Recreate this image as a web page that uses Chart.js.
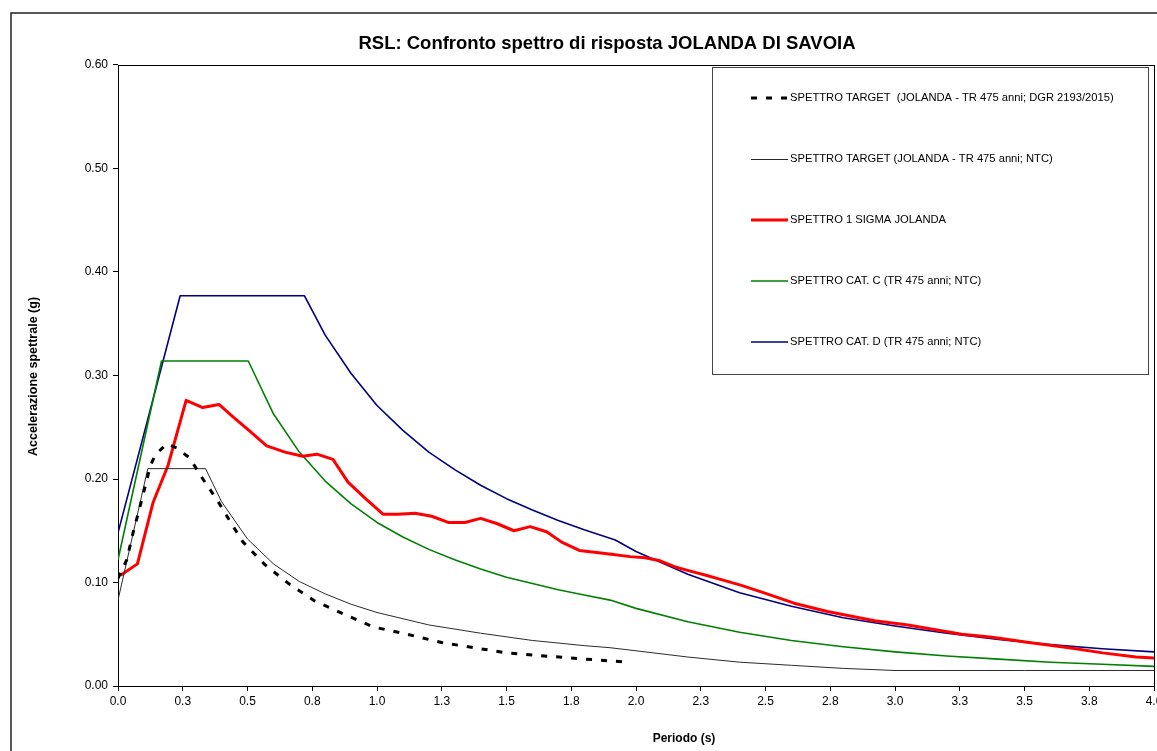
<!DOCTYPE html>
<html lang="it">
<head>
<meta charset="utf-8">
<title>RSL: Confronto spettro di risposta JOLANDA DI SAVOIA</title>
<script src="https://cdn.jsdelivr.net/npm/chart.js@4.4.1/dist/chart.umd.min.js"></script>
<style>
    html, body { margin: 0; padding: 0; background: #ffffff; overflow: hidden; }
    #spettri { display: block; }
</style>
</head>
<body>
<canvas id="spettri" width="1157" height="751"></canvas>
<script>
// Spettri di risposta - periodo (s) / accelerazione spettrale (g)

const periodiDGR = [0, 0.034, 0.058, 0.092, 0.124, 0.143, 0.188, 0.227, 0.278, 0.317, 0.387, 0.445, 0.483, 0.568, 0.664, 0.761, 0.876, 0.986, 1.10, 1.25, 1.50, 1.75, 1.97];
const targetDGR = [0.104, 0.122, 0.148, 0.180, 0.212, 0.223, 0.234, 0.230, 0.220, 0.204, 0.178, 0.154, 0.139, 0.117, 0.098, 0.082, 0.069, 0.057, 0.051, 0.042, 0.032, 0.027, 0.023];

const periodiNTC = [0, 0.115, 0.338, 0.4, 0.5, 0.6, 0.7, 0.8, 0.9, 1.0, 1.2, 1.4, 1.6, 1.8, 1.9, 2.0, 2.2, 2.4, 2.6, 2.8, 3.0, 3.5, 4.0];
const targetNTC = [0.083, 0.210, 0.210, 0.178, 0.142, 0.118, 0.101, 0.089, 0.079, 0.071, 0.059, 0.051, 0.044, 0.039, 0.037, 0.034, 0.028, 0.023, 0.020, 0.017, 0.015, 0.015, 0.015];

const periodiSigma = [0.01, 0.075, 0.135, 0.193, 0.263, 0.327, 0.39, 0.444, 0.51, 0.574, 0.645, 0.713, 0.768, 0.83, 0.888, 0.96, 1.023, 1.081, 1.147, 1.211, 1.275, 1.34, 1.40, 1.462, 1.529, 1.591, 1.655, 1.713, 1.781, 1.848, 1.912, 1.977, 2.035, 2.093, 2.151, 2.21, 2.27, 2.34, 2.41, 2.506, 2.61, 2.739, 2.921, 3.05, 3.258, 3.375, 3.517, 3.672, 3.802, 3.93, 4.0];
const sigma1 = [0.107, 0.118, 0.177, 0.213, 0.276, 0.269, 0.272, 0.260, 0.246, 0.232, 0.226, 0.222, 0.224, 0.219, 0.197, 0.180, 0.166, 0.166, 0.167, 0.164, 0.158, 0.158, 0.162, 0.157, 0.150, 0.154, 0.149, 0.139, 0.131, 0.129, 0.127, 0.125, 0.124, 0.121, 0.115, 0.111, 0.107, 0.102, 0.097, 0.089, 0.080, 0.072, 0.063, 0.059, 0.050, 0.047, 0.042, 0.037, 0.032, 0.028, 0.027];

const periodiCatC = [0, 0.168, 0.503, 0.6, 0.7, 0.8, 0.9, 1.0, 1.1, 1.2, 1.3, 1.4, 1.5, 1.6, 1.7, 1.8, 1.9, 2.0, 2.2, 2.4, 2.6, 2.8, 3.0, 3.2, 3.4, 3.6, 3.8, 4.0];
const catC = [0.122, 0.314, 0.314, 0.263, 0.226, 0.198, 0.176, 0.158, 0.144, 0.132, 0.122, 0.113, 0.105, 0.099, 0.093, 0.088, 0.083, 0.075, 0.062, 0.052, 0.044, 0.038, 0.033, 0.029, 0.026, 0.023, 0.021, 0.019];

const periodiCatD = [0, 0.24, 0.72, 0.8, 0.9, 1.0, 1.1, 1.2, 1.3, 1.4, 1.5, 1.6, 1.7, 1.8, 1.92, 2.0, 2.2, 2.4, 2.6, 2.8, 3.0, 3.2, 3.4, 3.6, 3.8, 4.0];
const catD = [0.148, 0.377, 0.377, 0.339, 0.302, 0.271, 0.247, 0.226, 0.209, 0.194, 0.181, 0.170, 0.160, 0.151, 0.141, 0.130, 0.108, 0.090, 0.077, 0.066, 0.058, 0.051, 0.045, 0.040, 0.036, 0.033];

const xTickLabels = ['0.0', '0.3', '0.5', '0.8', '1.0', '1.3', '1.5', '1.8', '2.0', '2.3', '2.5', '2.8', '3.0', '3.3', '3.5', '3.8', '4.0'];
const yTickLabels = ['0.00', '0.10', '0.20', '0.30', '0.40', '0.50', '0.60'];

const FONT = '"Liberation Sans", Arial, Helvetica, sans-serif';

function toPoints(periods, values) {
    return periods.map((t, i) => ({ x: t, y: values[i] }));
}

// Frame, title, axis titles and the boxed legend inside the plot
const decorations = {
    id: 'decorations',
    beforeDatasetsDraw(chart) {
        const a = chart.chartArea;
        const ctx = chart.ctx;
        ctx.save();
        ctx.strokeStyle = '#000000';
        ctx.lineWidth = 1;
        ctx.strokeRect(a.left + 0.5, a.top + 0.5, a.right - a.left, a.bottom - a.top);
        ctx.restore();
    },
    afterDraw(chart) {
        const ctx = chart.ctx;
        const a = chart.chartArea;
        ctx.save();

        // outer chart frame
        ctx.strokeStyle = '#222222';
        ctx.lineWidth = 1.5;
        ctx.beginPath();
        ctx.moveTo(11, 760);
        ctx.lineTo(11, 13);
        ctx.lineTo(1170, 13);
        ctx.stroke();

        // title
        ctx.fillStyle = '#000000';
        ctx.textAlign = 'center';
        ctx.textBaseline = 'middle';
        ctx.font = 'bold 18.5px ' + FONT;
        ctx.fillText('RSL: Confronto spettro di risposta JOLANDA DI SAVOIA', 607, 44);

        // axis titles
        ctx.font = 'bold 12px ' + FONT;
        ctx.fillText('Periodo (s)', 684, 739);
        ctx.save();
        ctx.translate(34, (a.top + a.bottom) / 2 + 1);
        ctx.rotate(-Math.PI / 2);
        ctx.font = 'bold 12.5px ' + FONT;
        ctx.fillText('Accelerazione spettrale (g)', 0, 0);
        ctx.restore();

        // legend box
        ctx.fillStyle = '#ffffff';
        ctx.fillRect(712, 67, 436, 307);
        ctx.strokeStyle = '#444444';
        ctx.lineWidth = 1;
        ctx.strokeRect(712.5, 67.5, 436, 307);

        ctx.textAlign = 'left';
        ctx.textBaseline = 'middle';
        ctx.font = '11.2px ' + FONT;
        chart.data.datasets.forEach((ds, i) => {
            const y = 98 + i * 61;
            const ly = ds.borderWidth < 1.5 ? y + 0.5 : y;
            ctx.strokeStyle = ds.borderColor;
            ctx.lineWidth = ds.borderWidth;
            ctx.setLineDash(ds.borderDash || []);
            ctx.beginPath();
            ctx.moveTo(751, ly);
            ctx.lineTo(788, ly);
            ctx.stroke();
            ctx.setLineDash([]);
            ctx.fillStyle = '#000000';
            ctx.fillText(ds.label, 790, y);
        });

        ctx.restore();
    }
};

const ctx = document.getElementById('spettri');

new Chart(ctx, {
    type: 'scatter',
    data: {
        datasets: [{
            label: 'SPETTRO TARGET  (JOLANDA - TR 475 anni; DGR 2193/2015)',
            data: toPoints(periodiDGR, targetDGR),
            borderColor: '#000000',
            borderWidth: 3,
            borderDash: [6, 9]
        }, {
            label: 'SPETTRO TARGET (JOLANDA - TR 475 anni; NTC)',
            data: toPoints(periodiNTC, targetNTC),
            borderColor: '#2a2a2a',
            borderWidth: 1
        }, {
            label: 'SPETTRO 1 SIGMA JOLANDA',
            data: toPoints(periodiSigma, sigma1),
            borderColor: '#ff0000',
            borderWidth: 3
        }, {
            label: 'SPETTRO CAT. C (TR 475 anni; NTC)',
            data: toPoints(periodiCatC, catC),
            borderColor: '#008000',
            borderWidth: 1.6
        }, {
            label: 'SPETTRO CAT. D (TR 475 anni; NTC)',
            data: toPoints(periodiCatD, catD),
            borderColor: '#000080',
            borderWidth: 1.6
        }]
    },
    options: {
        responsive: false,
        animation: false,
        events: [],
        showLine: true,
        elements: {
            point: { radius: 0, hoverRadius: 0 },
            line: { tension: 0, fill: false, borderCapStyle: 'butt', borderJoinStyle: 'round' }
        },
        layout: {
            autoPadding: false,
            padding: { left: 0, right: 3, top: 65, bottom: 0 }
        },
        plugins: {
            legend: { display: false },
            title: { display: false },
            tooltip: { enabled: false }
        },
        scales: {
            x: {
                type: 'linear',
                min: 0,
                max: 4,
                afterFit(scale) {
                    scale.height = 65;
                    scale.paddingLeft = 0;
                    scale.paddingRight = 0;
                },
                afterBuildTicks(scale) {
                    scale.ticks = xTickLabels.map((_, i) => ({ value: i * 0.25 }));
                },
                ticks: {
                    autoSkip: false,
                    maxRotation: 0,
                    padding: 3,
                    color: '#000000',
                    font: { family: FONT, size: 12 },
                    callback: (value, index) => xTickLabels[index]
                },
                grid: {
                    display: true,
                    drawOnChartArea: false,
                    drawTicks: true,
                    tickLength: 5,
                    tickColor: '#000000',
                    color: '#000000'
                },
                border: { display: true, color: '#000000', width: 1 }
            },
            y: {
                type: 'linear',
                min: 0,
                max: 0.6,
                afterFit(scale) {
                    scale.width = 118;
                    scale.paddingTop = 0;
                    scale.paddingBottom = 0;
                },
                afterBuildTicks(scale) {
                    scale.ticks = yTickLabels.map((_, i) => ({ value: i * 0.1 }));
                },
                ticks: {
                    autoSkip: false,
                    padding: 5,
                    color: '#000000',
                    font: { family: FONT, size: 12 },
                    callback: (value, index) => yTickLabels[index]
                },
                grid: {
                    display: true,
                    drawOnChartArea: false,
                    drawTicks: true,
                    tickLength: 5,
                    tickColor: '#000000',
                    color: '#000000'
                },
                border: { display: true, color: '#000000', width: 1 }
            }
        }
    },
    plugins: [decorations]
});
</script>
</body>
</html>
